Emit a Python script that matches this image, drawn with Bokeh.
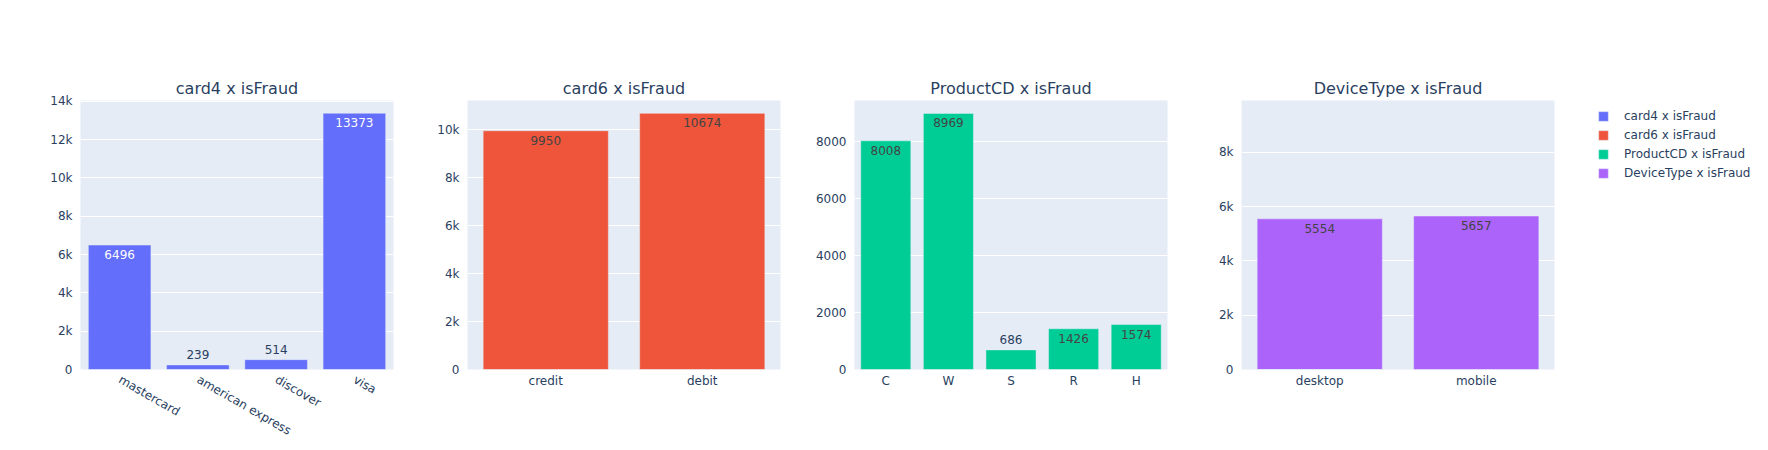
import math
from bokeh.plotting import figure
from bokeh.layouts import row
from bokeh.models import (ColumnDataSource, FactorRange, Range1d, SingleIntervalTicker,
                          CustomJSTickFormatter, BasicTickFormatter, Legend, LegendItem)
from bokeh.core.properties import value
from bokeh.embed import file_html
from bokeh.resources import INLINE

# ---- data ----
card4_cats = ["mastercard", "american express", "discover", "visa"]
card4_vals = [6496, 239, 514, 13373]
card6_cats = ["credit", "debit"]
card6_vals = [9950, 10674]
product_cats = ["C", "W", "S", "R", "H"]
product_vals = [8008, 8969, 686, 1426, 1574]
device_cats = ["desktop", "mobile"]
device_vals = [5554, 5657]

titles = ["card4 x isFraud", "card6 x isFraud", "ProductCD x isFraud", "DeviceType x isFraud"]
colors = ["#636EFA", "#EF553B", "#00CC96", "#AB63FA"]
y_max = [14040, 11210, 9420, 9915]
inside_text_colors = ["#ffffff", "#444444", "#444444", "#444444"]

FONT = "DejaVu Sans"
TXT = "#2a3f5f"
BG = "#E5ECF6"
FH = 269
FW = 313

def make_panel(i, cats, vals, left, right, kfmt=True, rotate=False):
    p = figure(x_range=FactorRange(*cats, range_padding=0), y_range=Range1d(0, y_max[i]),
               frame_width=FW, frame_height=FH, min_border_left=left, min_border_right=right,
               min_border_top=100, min_border_bottom=79, output_backend="svg",
               toolbar_location=None, title=titles[i])
    p.background_fill_color = BG
    p.border_fill_color = "white"
    p.outline_line_color = None
    p.title.align = "center"
    p.title.text_font = FONT
    p.title.text_font_size = "16px"
    p.title.text_font_style = "normal"
    p.title.text_color = TXT
    p.title.standoff = 6

    px = [v / y_max[i] * FH for v in vals]
    inside = [h > 22 for h in px]
    src = ColumnDataSource(dict(x=cats, top=vals))
    r = p.vbar(x="x", top="top", width=0.8, source=src, fill_color=colors[i],
               line_color=BG, line_width=0.5)

    in_src = ColumnDataSource(dict(x=[c for c, f in zip(cats, inside) if f],
                                   y=[v for v, f in zip(vals, inside) if f],
                                   t=[str(v) for v, f in zip(vals, inside) if f]))
    out_src = ColumnDataSource(dict(x=[c for c, f in zip(cats, inside) if not f],
                                    y=[v for v, f in zip(vals, inside) if not f],
                                    t=[str(v) for v, f in zip(vals, inside) if not f]))
    p.text(x="x", y="y", text="t", source=in_src, text_align="center", text_baseline="top",
           y_offset=5, text_font=value(FONT), text_font_size="12px",
           text_color=inside_text_colors[i])
    p.text(x="x", y="y", text="t", source=out_src, text_align="center", text_baseline="bottom",
           y_offset=-6, text_font=value(FONT), text_font_size="12px", text_color=TXT)

    p.xgrid.visible = False
    p.ygrid.grid_line_color = "white"
    p.ygrid.grid_line_width = 1
    p.yaxis.ticker = SingleIntervalTicker(interval=2000, num_minor_ticks=0)
    if kfmt:
        p.yaxis.formatter = CustomJSTickFormatter(
            code="return tick >= 1000 ? (tick/1000) + 'k' : tick.toString();")
    else:
        p.yaxis.formatter = BasicTickFormatter(use_scientific=False)
    for ax in (p.xaxis[0], p.yaxis[0]):
        ax.axis_line_color = None
        ax.major_tick_line_color = None
        ax.minor_tick_line_color = None
        ax.major_label_text_font = FONT
        ax.major_label_text_font_size = "12px"
        ax.major_label_text_color = TXT
    p.yaxis.major_label_standoff = 2
    if rotate:
        p.xaxis.major_label_orientation = -math.pi / 6
        p.xaxis.major_label_standoff = 3
    else:
        p.xaxis.major_label_standoff = -2
    return p, r

p1, r1 = make_panel(0, card4_cats, card4_vals, 80, 27, rotate=True)
p2, r2 = make_panel(1, card6_cats, card6_vals, 47, 27)
p3, r3 = make_panel(2, product_cats, product_vals, 47, 27, kfmt=False)
p4, r4 = make_panel(3, device_cats, device_vals, 47, 212)

# legend swatches for the other series (zero-height bars in the last panel)
dummies = []
for c in colors[:3]:
    dummies.append(p4.vbar(x=[device_cats[0]], top=[0], width=0.8, fill_color=c,
                           line_color=BG, line_width=0.5))
items = [LegendItem(label=titles[k], renderers=[dummies[k]]) for k in range(3)]
items.append(LegendItem(label=titles[3], renderers=[r4]))
legend = Legend(items=items, location=(43, 187), margin=0, padding=0, spacing=0,
                glyph_width=12, glyph_height=12, label_height=19, label_standoff=15,
                label_text_font=FONT, label_text_font_size="12px", label_text_color=TXT,
                border_line_color=None, background_fill_alpha=0)
p4.add_layout(legend, "right")

layout = row(p1, p2, p3, p4)
open("out.html", "w").write(file_html(layout, INLINE))
